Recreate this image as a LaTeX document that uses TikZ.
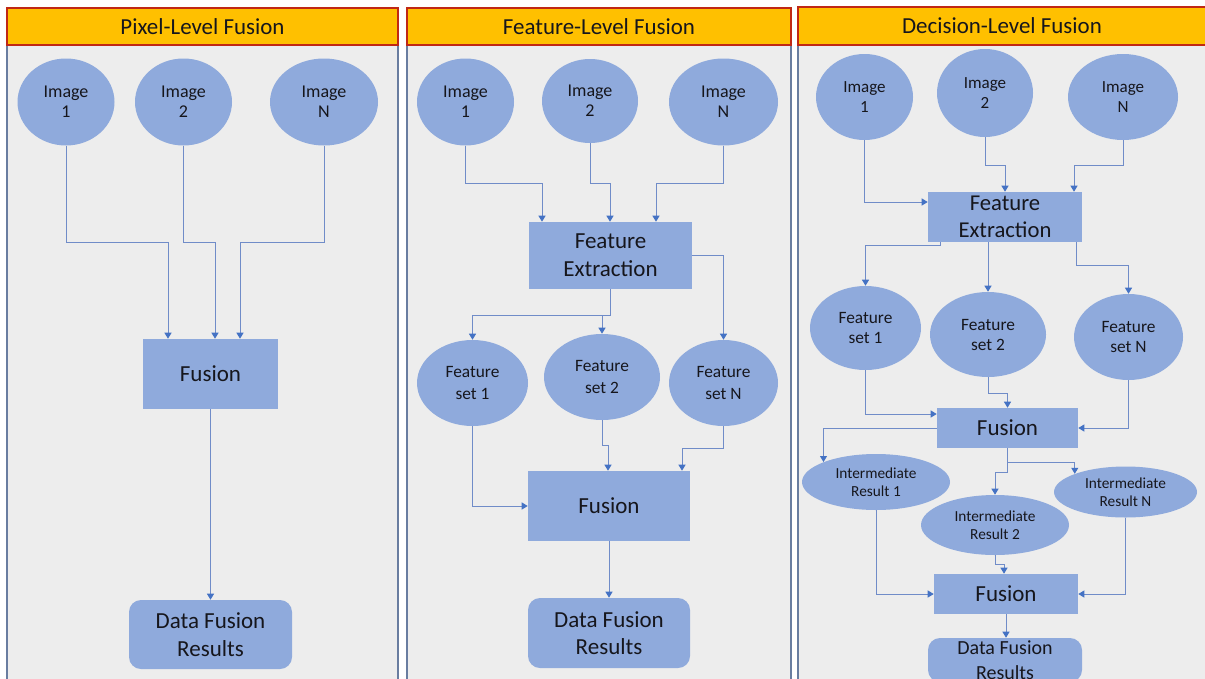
\documentclass[tikz,border=0pt]{standalone}
\usepackage{fontspec}
\setmainfont{Carlito}
\usetikzlibrary{shapes.geometric,arrows.meta,calc}

\definecolor{hdrfill}{RGB}{255,192,0}
\definecolor{hdrline}{RGB}{192,40,20}
\definecolor{panelfill}{RGB}{237,237,237}
\definecolor{panelline}{RGB}{105,125,160}
\definecolor{nodefill}{RGB}{143,170,220}
\definecolor{linkcol}{RGB}{112,140,200}
\definecolor{tipcol}{RGB}{68,114,196}
\definecolor{inkcol}{RGB}{22,22,28}

\newcommand{\fsz}[2]{\fontsize{#1pt}{#2pt}\selectfont}

\tikzset{
  ell/.style n args={2}{ellipse, fill=nodefill, inner sep=0pt, align=center, text=inkcol,
    minimum width=#1*0.75pt, minimum height=#2*0.75pt},
  sqbox/.style n args={2}{rectangle, fill=nodefill, inner sep=0pt, align=center, text=inkcol,
    minimum width=#1*0.75pt, minimum height=#2*0.75pt},
  rdbox/.style n args={2}{sqbox={#1}{#2}, rounded corners=9pt},
  conn/.style={draw=linkcol, line width=0.75pt,
    -{Triangle[width=5.25pt,length=4.5pt,color=tipcol,fill=tipcol]}},
  panel/.style={fill=panelfill, draw=panelline, line width=1.2pt},
  header/.style={fill=hdrfill, draw=hdrline, line width=0.9pt},
  title/.style={text=inkcol, font=\fsz{17.2}{20}},
  imgtxt/.style={font=\fsz{13.5}{15}},
  fstxt/.style={font=\fsz{13}{16.5}},
  bigtxt/.style={font=\fsz{17.25}{20.5}},
  irtxt/.style={font=\fsz{11.5}{13.5}},
}

\begin{document}
\begin{tikzpicture}[x=0.75pt, y=-0.75pt]
\useasboundingbox (0,0) rectangle (1205,678);
\clip (0,0) rectangle (1205,678);
\fill[white] (0,0) rectangle (1205,678);

% ---------- panel frames ----------
\draw[panel] (7,45) rectangle (398,700);
\draw[header] (7,8) rectangle (398,45);
\node[title] (t1) at (202.5,27) {Pixel-Level Fusion};

\draw[panel] (407,45) rectangle (791,700);
\draw[header] (407,8) rectangle (791,45);
\node[title] (t2) at (599,27) {Feature-Level Fusion};

\draw[panel] (798,45) rectangle (1210,700);
\draw[header] (798,7) rectangle (1210,45);
\node[title] (t3) at (1002,26) {Decision-Level Fusion};

% ---------- pixel-level ----------
\node[ell={97}{87}, imgtxt] (p1i1) at (66,102) {Image\\1};
\node[ell={97}{87}, imgtxt] (p1i2) at (183.5,102) {Image\\2};
\node[ell={108}{87}, imgtxt] (p1iN) at (324,102) {Image\\N};
\node[sqbox={135}{70}, bigtxt] (p1fu) at (210.5,374) {Fusion};
\node[rdbox={163}{69}, bigtxt] (p1dr) at (210.5,634.5) {Data Fusion\\Results};

\coordinate (c11) at (168,242);
\coordinate (c12) at (215,242);
\coordinate (c1N) at (240,242);
\draw[conn] (p1i1.south) |- (c11) -- (c11 |- p1fu.north);
\draw[conn] (p1i2.south) |- (c12) -- (c12 |- p1fu.north);
\draw[conn] (p1iN.south) |- (c1N) -- (c1N |- p1fu.north);
\draw[conn] (p1fu.south) -- (p1dr.north);

% ---------- feature-level ----------
\node[ell={97}{87}, imgtxt] (p2i1) at (465.5,102) {Image\\1};
\node[ell={96}{84}, imgtxt] (p2i2) at (590,101) {Image\\2};
\node[ell={109}{87}, imgtxt] (p2iN) at (723.5,102) {Image\\N};
\node[sqbox={163}{67}, font=\fsz{17.25}{21}] (p2fe) at (610.5,255.5) {Feature\\Extraction};
\node[ell={111}{86}, fstxt] (p2fs1) at (472.5,383) {Feature\\set 1};
\node[ell={116}{86}, fstxt] (p2fs2) at (602,377) {Feature\\set 2};
\node[ell={109}{86}, fstxt] (p2fsN) at (723.5,383) {Feature\\set N};
\node[sqbox={162}{70}, bigtxt] (p2fu) at (609,506) {Fusion};
\node[rdbox={162}{70}, bigtxt] (p2dr) at (609,633) {Data Fusion\\Results};

\coordinate (c21) at (542,183);
\coordinate (c22) at (610,183);
\coordinate (c2N) at (656,183);
\draw[conn] (p2i1.south) |- (c21) -- (c21 |- p2fe.north);
\draw[conn] (p2i2.south) |- (c22) -- (c22 |- p2fe.north);
\draw[conn] (p2iN.south) |- (c2N) -- (c2N |- p2fe.north);

\coordinate (c2s1) at (472.5,315);
\coordinate (c2s2) at (602,315);
\draw[conn] (p2fe.south) |- (c2s1) -- (p2fs1.north);
\draw[conn] (p2fe.south) |- (c2s2) -- (p2fs2.north);
\draw[conn] (p2fe.east) -| (p2fsN.north);

\coordinate (c2f2) at (608,445);
\coordinate (c2fN) at (682,448);
\draw[conn] (p2fs1.south) |- (p2fu.west);
\draw[conn] (p2fs2.south) |- (c2f2) -- (c2f2 |- p2fu.north);
\draw[conn] (p2fsN.south) |- (c2fN) -- (c2fN |- p2fu.north);
\draw[conn] (p2fu.south) -- (p2dr.north);

% ---------- decision-level ----------
\node[ell={97}{86}, font=\fsz{12.75}{15}] (p3i1) at (864.5,97) {Image\\1};
\node[ell={96}{88}, font=\fsz{12.75}{15}] (p3i2) at (985,93) {Image\\2};
\node[ell={110}{86}, font=\fsz{12.75}{15}] (p3iN) at (1123,97) {Image\\N};
\node[sqbox={154}{50}, font=\fsz{17}{20}] (p3fe) at (1005,217) {Feature\\Extraction};
\node[ell={111}{84}, font=\fsz{13}{15}] (p3fs1) at (865.5,328) {Feature\\set 1};
\node[ell={116}{85}, font=\fsz{13}{15}] (p3fs2) at (988,334.5) {Feature\\set 2};
\node[ell={109}{86}, font=\fsz{13}{15}] (p3fsN) at (1128.5,337) {Feature\\set N};
\node[sqbox={141}{40}, bigtxt] (p3fu1) at (1007.5,428) {Fusion};
\node[ell={148}{56}, irtxt] (p3ir1) at (876,482) {Intermediate\\Result 1};
\node[ell={148}{60}, irtxt] (p3ir2) at (995,525) {Intermediate\\Result 2};
\node[ell={143}{51}, irtxt] (p3irN) at (1125.5,492) {Intermediate\\Result N};
\node[sqbox={144}{40}, bigtxt] (p3fu2) at (1006,594) {Fusion};
\node[rdbox={154}{44}, font=\fsz{15}{18.75}] (p3dr) at (1005,660) {Data Fusion\\Results};

\coordinate (c32) at (1005,165);
\coordinate (c3N) at (1074,165);
\draw[conn] (p3i1.south) |- ([yshift=11.25pt]p3fe.west);
\draw[conn] (p3i2.south) |- (c32) -- (c32 |- p3fe.north);
\draw[conn] (p3iN.south) |- (c3N) -- (c3N |- p3fe.north);

\coordinate (c3e1) at (940,245);
\coordinate (c3eN) at (1076,265);
\draw[conn] (c3e1 |- p3fe.south) -- (c3e1) -| (p3fs1.north);
\draw[conn] (p3fs2.north |- p3fe.south) -- (p3fs2.north);
\draw[conn] (c3eN |- p3fe.south) -- (c3eN) -| (p3fsN.north);

\coordinate (c3f2) at (1007.5,393);
\draw[conn] (p3fs1.south) |- ([yshift=10.5pt]p3fu1.west);
\draw[conn] (p3fs2.south) |- (c3f2) -- (c3f2 |- p3fu1.north);
\draw[conn] (p3fsN.south) |- (p3fu1.east);

\coordinate (c3r2) at (1007.5,472);
\coordinate (c3rN) at (1007.5,462);
\draw[conn] (p3fu1.west) -| (p3ir1.north west);
\draw[conn] (p3fu1.south) -- (c3r2) -| (p3ir2.north);
\draw[conn] (p3fu1.south) -- (c3rN) -| (p3irN.north west);

\coordinate (c3g2) at (1004,564);
\draw[conn] (p3ir1.south) |- (p3fu2.west);
\draw[conn] (p3ir2.south) |- (c3g2) -- (c3g2 |- p3fu2.north);
\draw[conn] (p3irN.south) |- (p3fu2.east);
\draw[conn] (p3fu2.south) -- (p3fu2.south |- p3dr.north);
\end{tikzpicture}
\end{document}
